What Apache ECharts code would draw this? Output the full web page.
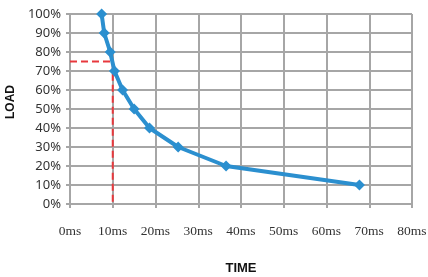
<!DOCTYPE html>
<html>
<head>
<meta charset="utf-8">
<script src="https://cdn.jsdelivr.net/npm/echarts@6/dist/echarts.min.js"></script>
<style>
    html, body { margin: 0; padding: 0; background: #fff; }
    #chart { width: 428px; height: 277px; }
</style>
</head>
<body>
<div id="chart"></div>
<script>
// time (ms) vs load (%)
const timeMs = [7.4, 8.0, 9.4, 10.4, 12.3, 15.0, 18.6, 25.3, 36.5, 67.7];
const loadPct = [100, 90, 80, 70, 60, 50, 40, 30, 20, 10];
// red guide: 75% load at 10ms
const guideTime = [0, 10, 10];
const guideLoad = [75, 75, 0];

const gridColor = "#a6a6a6";

let chart = echarts.init(document.getElementById("chart"));
chart.setOption({
    animation: false,
    grid: {
        left: 70,
        right: 16,
        top: 14,
        bottom: 73,
        outerBoundsMode: "none"
    },
    xAxis: {
        type: "value",
        min: 0,
        max: 80,
        interval: 10,
        name: "TIME",
        nameLocation: "middle",
        nameGap: 58,
        nameTextStyle: {
            fontFamily: "Liberation Sans",
            fontWeight: "bold",
            fontSize: 13,
            color: "#111"
        },
        axisLine: { show: true, lineStyle: { color: gridColor, width: 2 } },
        axisTick: { show: true, length: 4, lineStyle: { color: gridColor, width: 2 } },
        axisLabel: {
            formatter: "{value}ms",
            margin: 20,
            fontFamily: "Liberation Serif",
            fontSize: 13.5,
            color: "#333"
        },
        splitLine: { show: true, lineStyle: { color: gridColor, width: 2 } }
    },
    yAxis: {
        type: "value",
        min: 0,
        max: 100,
        interval: 10,
        name: "LOAD",
        nameLocation: "middle",
        nameGap: 45,
        nameTextStyle: {
            fontFamily: "Liberation Sans",
            fontWeight: "bold",
            fontSize: 12,
            color: "#111",
            padding: [0, 0, 0, 14]
        },
        axisLine: { show: true, lineStyle: { color: gridColor, width: 2 } },
        axisTick: { show: true, length: 4, lineStyle: { color: gridColor, width: 2 } },
        axisLabel: {
            formatter: "{value}%",
            margin: 9,
            fontFamily: "Noto Sans",
            fontSize: 13,
            color: "#333"
        },
        splitLine: { show: true, lineStyle: { color: gridColor, width: 2 } }
    },
    series: [
        {
            name: "guide",
            type: "line",
            showSymbol: false,
            data: guideTime.map((t, i) => [t, guideLoad[i]]),
            lineStyle: { color: "#e8383d", width: 2, type: [7, 4] },
            z: 3
        },
        {
            name: "load",
            type: "line",
            symbol: "diamond",
            symbolSize: 11,
            data: timeMs.map((t, i) => [t, loadPct[i]]),
            itemStyle: { color: "#2b8fcf" },
            lineStyle: { color: "#2b8fcf", width: 4 },
            z: 4
        }
    ]
});
</script>
</body>
</html>
